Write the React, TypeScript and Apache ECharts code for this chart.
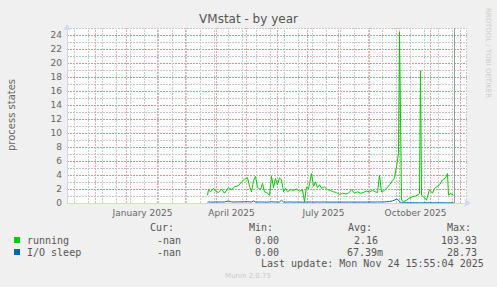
import React, { useEffect, useRef } from "react";
import * as echarts from "echarts";

// ---- data ----
const dates = [
  "2025-03-23", "2025-03-24", "2025-03-26", "2025-03-29", "2025-03-31", "2025-04-03", "2025-04-06", "2025-04-09", "2025-04-13", "2025-04-16",
  "2025-04-19", "2025-04-23", "2025-04-26", "2025-04-29", "2025-05-02", "2025-05-04", "2025-05-06", "2025-05-08", "2025-05-10", "2025-05-12",
  "2025-05-15", "2025-05-17", "2025-05-19", "2025-05-22", "2025-05-24", "2025-05-26", "2025-05-28", "2025-05-30", "2025-06-01", "2025-06-03",
  "2025-06-05", "2025-06-07", "2025-06-09", "2025-06-11", "2025-06-14", "2025-06-17", "2025-06-20", "2025-06-23", "2025-06-26", "2025-06-28",
  "2025-06-30", "2025-07-02", "2025-07-05", "2025-07-07", "2025-07-09", "2025-07-11", "2025-07-13", "2025-07-15", "2025-07-18", "2025-07-21",
  "2025-07-24", "2025-07-27", "2025-07-30", "2025-08-02", "2025-08-05", "2025-08-08", "2025-08-11", "2025-08-14", "2025-08-17", "2025-08-20",
  "2025-08-23", "2025-08-26", "2025-08-29", "2025-09-01", "2025-09-04", "2025-09-07", "2025-09-09", "2025-09-11", "2025-09-13", "2025-09-16",
  "2025-09-18", "2025-09-21", "2025-09-24", "2025-09-26", "2025-09-28", "2025-09-30", "2025-10-01", "2025-10-03", "2025-10-05", "2025-10-08",
  "2025-10-11", "2025-10-14", "2025-10-17", "2025-10-20", "2025-10-21", "2025-10-22", "2025-10-23", "2025-10-25", "2025-10-28", "2025-10-31",
  "2025-11-03", "2025-11-05", "2025-11-07", "2025-11-10", "2025-11-13", "2025-11-16", "2025-11-17", "2025-11-18", "2025-11-19", "2025-11-21", "2025-11-24",
];

const running = [
  1.1, 1.9, 1.6, 2.1, 1.7, 1.5, 2.0, 1.4, 2.2, 1.9,
  2.3, 2.5, 3.0, 3.4, 3.6, 2.4, 1.6, 3.2, 3.8, 2.2,
  1.9, 2.8, 1.6, 1.4, 1.1, 3.8, 2.2, 3.5, 2.6, 3.6,
  3.3, 1.6, 2.1, 1.6, 1.9, 1.8, 2.0, 1.7, 1.9, 0.2,
  2.3, 2.0, 4.2, 2.4, 3.0, 2.2, 2.6, 2.1, 2.3, 1.9,
  1.8, 1.6, 1.5, 1.2, 1.4, 1.3, 1.4, 1.9, 1.4, 1.6,
  1.4, 1.5, 1.7, 1.6, 1.8, 1.6, 1.5, 4.0, 1.6, 1.8,
  2.1, 2.6, 3.2, 3.6, 5.2, 7.1, 24.4, 0.4, 0.2, 0.4,
  0.7, 0.9, 1.0, 1.2, 1.4, 18.9, 1.1, 0.9, 0.4, 1.9,
  1.4, 2.1, 2.3, 2.6, 3.3, 3.6, 3.9, 4.2, 1.1, 1.4, 1.1,
];

const ioSleep = [
  0.10, 0.15, 0.14, 0.12, 0.16, 0.13, 0.15, 0.14, 0.30, 0.15,
  0.14, 0.16, 0.15, 0.18, 0.20, 0.15, 0.16, 0.30, 0.14, 0.13,
  0.15, 0.14, 0.12, 0.13, 0.15, 0.20, 0.14, 0.16, 0.12, 0.15,
  0.40, 0.14, 0.12, 0.13, 0.15, 0.12, 0.14, 0.13, 0.12, 0.10,
  0.15, 0.13, 0.14, 0.12, 0.13, 0.15, 0.12, 0.13, 0.14, 0.12,
  0.13, 0.12, 0.14, 0.12, 0.13, 0.12, 0.14, 0.13, 0.12, 0.13,
  0.14, 0.12, 0.13, 0.15, 0.13, 0.14, 0.15, 0.14, 0.15, 0.16,
  0.18, 0.22, 0.30, 0.40, 0.55, 0.40, 0.20, 0.03, 0.03, 0.03,
  0.03, 0.03, 0.03, 0.03, 0.03, 0.05, 0.03, 0.03, 0.03, 0.03,
  0.03, 0.03, 0.03, 0.03, 0.03, 0.03, 0.03, 0.03, 0.03, 0.03, 0.03,
];

const yTicks = [0, 2, 4, 6, 8, 10, 12, 14, 16, 18, 20, 22, 24];
const xLabels = ["January 2025", "April 2025", "July 2025", "October 2025"];
const xLabelDates = ["2025-01-16", "2025-04-15", "2025-07-16", "2025-10-16"];

const legendHeader = ["Cur:", "Min:", "Avg:", "Max:"];
const legendRows = [
  { name: "running", color: "#00CC00", values: ["-nan", "0.00", "2.16", "103.93"] },
  { name: "I/O sleep", color: "#0066B3", values: ["-nan", "0.00", "67.39m", "28.73"] },
];
const lastUpdate = "Last update: Mon Nov 24 15:55:04 2025";
const nowTime = Date.UTC(2025, 10, 24, 15, 55);

// ---- helpers ----
const DAY = 86400000;
const toTs = (s: string) => {
  const [y, m, d] = s.split("-").map(Number);
  return Date.UTC(y, m - 1, d);
};
const X_MIN = Date.UTC(2025, 0, 1) - 59.5 * DAY;
const X_MAX = X_MIN + 400 * DAY;

const monthStarts: number[] = [];
for (let y = 2024, m = 11; ; ) {
  const t = Date.UTC(y, m, 1);
  if (t > X_MAX) break;
  if (t > X_MIN) monthStarts.push(t);
  m++;
  if (m > 11) { m = 0; y++; }
}
const weekLines: number[] = [];
for (let t = Date.UTC(2024, 10, 10); t < X_MAX; t += 14 * DAY) weekLines.push(t);

const MONO = '"DejaVu Sans Mono", monospace';
const SANS = '"DejaVu Sans", sans-serif';
const MAJOR = "#EBA9A9";
const MINOR = "#CCCCCC";
const MAJOR_H = "#E09090";
const MINOR_H = "#C4C4C4";

export default function App() {
  const ref = useRef<HTMLDivElement>(null);
  useEffect(() => {
    document.body.style.margin = "0";
    const chart = echarts.init(ref.current!, null, { renderer: "svg" });
    const gridMark = (data: any[], style: any) => ({
      type: "line",
      data: [],
      z: 1,
      silent: true,
      markLine: {
        z: 1,
        silent: true,
        symbol: ["none", "none"],
        label: { show: false },
        lineStyle: style,
        emphasis: { disabled: true },
        data,
      },
    });
    chart.setOption({
      animation: false,
      backgroundColor: "#F0F0F0",
      grid: { left: 67, top: 28, width: 400, height: 175, show: true, backgroundColor: "#FFFFFF", borderWidth: 0 },
      xAxis: {
        type: "time",
        min: X_MIN,
        max: X_MAX,
        axisLabel: { show: false },
        axisTick: { show: false },
        splitLine: { show: false },
        axisLine: { show: true, lineStyle: { color: "#CFD6F8", width: 1 }, symbol: ["none", "arrow"], symbolSize: [6, 7], symbolOffset: [0, 4] },
      },
      yAxis: {
        type: "value",
        min: 0,
        max: 25,
        interval: 1,
        axisLabel: {
          formatter: (v: number) => (yTicks.indexOf(v) >= 0 ? String(v) : ""),
          color: "#666666",
          fontSize: 9,
          fontFamily: SANS,
          margin: 5,
        },
        axisTick: { show: false },
        splitLine: { show: true, lineStyle: { color: [MAJOR_H, MINOR_H], width: 1, type: [2, 1] } },
        axisLine: { show: true, lineStyle: { color: "#CFD6F8", width: 1 }, symbol: ["none", "arrow"], symbolSize: [6, 7], symbolOffset: [0, 4] },
      },
      series: [
        gridMark(weekLines.map((t) => ({ xAxis: t })), { color: MINOR, width: 1, type: [2, 1] }),
        gridMark(monthStarts.map((t) => ({ xAxis: t })), { color: MAJOR, width: 1, type: [2, 1] }),
        gridMark([{ xAxis: nowTime }], { color: "#999999", width: 1, type: "solid" }),
        {
          name: "running",
          type: "line",
          z: 3,
          showSymbol: false,
          silent: true,
          lineStyle: { color: "#00CC00", width: 1 },
          data: dates.map((d, i) => [toTs(d), running[i]]),
        },
        {
          name: "I/O sleep",
          type: "line",
          z: 3,
          showSymbol: false,
          silent: true,
          lineStyle: { color: "#0066B3", width: 1 },
          data: dates.map((d, i) => [toTs(d), ioSleep[i]]),
        },
      ],
    });

    const txt = (text: string, x: number, y: number, o: any = {}) => ({
      type: "text",
      x,
      y,
      rotation: o.rotation || 0,
      silent: true,
      style: {
        text,
        fill: o.fill || "#555555",
        fontSize: o.fontSize || 10,
        fontFamily: o.fontFamily || MONO,
        align: o.align || "left",
        verticalAlign: "middle",
      },
    });
    const labelEls = xLabels.map((l, i) => {
      const px = chart.convertToPixel({ xAxisIndex: 0 }, toTs(xLabelDates[i])) as number;
      return txt(l, px + 1, 213, { align: "center", fontFamily: SANS, fontSize: 9, fill: "#666666" });
    });
    const colX = [150, 249, 348, 447];
    const valX = [
      [157, 255, 354, 441],
      [157, 255, 347, 447],
    ];
    const rowY = [240, 252];
    const els: any[] = [
      txt("VMstat - by year", 248.5, 18.5, { align: "center", fontFamily: SANS, fontSize: 12, fill: "#555555" }),
      txt("process states", 11, 115, { align: "center", fontFamily: SANS, fontSize: 10, fill: "#666666", rotation: Math.PI / 2 }),
      txt("RRDTOOL / TOBI OETIKER", 487.5, 53, { align: "center", fontFamily: SANS, fontSize: 7, fill: "#CCCCCC", rotation: -Math.PI / 2 }),
      ...legendHeader.map((h, i) => txt(h, colX[i], 227.5)),
      ...legendRows.flatMap((r, ri) => [
        { type: "rect", silent: true, shape: { x: 14, y: rowY[ri] - 3, width: 6, height: 6 }, style: { fill: r.color } },
        txt(r.name, 27, rowY[ri]),
        ...r.values.map((v, ci) => txt(v, valX[ri][ci], rowY[ri])),
      ]),
      txt(lastUpdate, 261, 263.5),
      txt("Munin 2.0.75", 248, 276, { align: "center", fontFamily: SANS, fontSize: 7, fill: "#C8C8C8" }),
      ...labelEls,
    ];
    chart.setOption({ graphic: els });
    return () => chart.dispose();
  }, []);
  return <div ref={ref} style={{ width: 497, height: 287 }} />;
}
